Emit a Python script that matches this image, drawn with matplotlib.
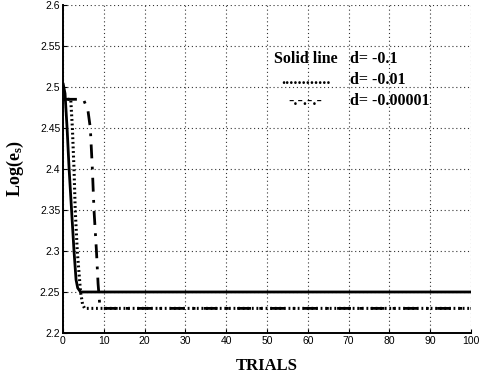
import matplotlib
matplotlib.use("Agg")
import matplotlib.pyplot as plt

# Convergence of Log(e_s) over trials for three values of d
trials_a = [0, 0.5, 1.0, 1.5, 2.1, 2.7, 3.2, 3.6, 4.3, 100]
loge_a = [2.505, 2.492, 2.45, 2.40, 2.35, 2.30, 2.265, 2.255, 2.25, 2.25]   # d = -0.1

trials_b = [0, 1.9, 2.3, 2.7, 3.0, 3.5, 4.3, 4.8, 5.3, 100]
loge_b = [2.485, 2.485, 2.45, 2.40, 2.35, 2.30, 2.25, 2.235, 2.23, 2.23]     # d = -0.01

trials_c = [0, 5.0, 6.1, 6.7, 7.2, 7.6, 8.2, 8.6, 9.0, 9.5, 100]
loge_c = [2.485, 2.485, 2.472, 2.45, 2.40, 2.35, 2.30, 2.26, 2.235, 2.23, 2.23]  # d = -0.00001

x_ticks = list(range(0, 101, 10))
y_ticks = [2.2, 2.25, 2.3, 2.35, 2.4, 2.45, 2.5, 2.55, 2.6]
y_tick_labels = ["2.2", "2.25", "2.3", "2.35", "2.4", "2.45", "2.5", "2.55", "2.6"]

legend_keys = ["Solid line", "............", "-.-.-.-"]
legend_vals = ["d= -0.1", "d= -0.01", "d= -0.00001"]

plt.rcParams["mathtext.fontset"] = "custom"
plt.rcParams["mathtext.rm"] = "Liberation Serif:bold"
plt.rcParams["mathtext.it"] = "Liberation Serif:bold"

fig = plt.figure(figsize=(4.79, 3.76), dpi=100)
ax = fig.add_axes([0.1315, 0.1144, 0.8518, 0.8723])

ax.plot(trials_a, loge_a, color="black", lw=2.0, solid_capstyle="butt")
ax.plot(trials_b, loge_b, color="black", lw=2.2, linestyle=(0, (0.6, 0.9)))
ax.plot(trials_c, loge_c, color="black", lw=2.0, linestyle=(0, (5, 3, 1, 3)))

ax.set_xlim(0, 100)
ax.set_ylim(2.2, 2.6)
ax.set_xticks(x_ticks)
ax.set_yticks(y_ticks)
ax.set_yticklabels(y_tick_labels)

ax.grid(True, color="#333333", linestyle=(0, (1, 2.5)), linewidth=0.8)
for side in ("top", "right"):
    ax.spines[side].set_visible(False)
for side in ("left", "bottom"):
    ax.spines[side].set_linewidth(1.4)

ax.tick_params(direction="in", length=3, width=0.8, labelsize=7.5, pad=2)
for lbl in ax.get_xticklabels() + ax.get_yticklabels():
    lbl.set_family("Liberation Sans")

ax.set_xlabel("TRIALS", family="Liberation Serif", weight="bold", fontsize=12, labelpad=9)
ax.set_ylabel("Log(e$_s$)", family="Liberation Serif", weight="bold", fontsize=13, labelpad=10)

key_x = [306, 306, 305]
val_x = 350
row_y = [59, 80, 101]
for key, val, kx, ry in zip(legend_keys, legend_vals, key_x, row_y):
    yf = (333 - ry) / 328.0
    ax.text((kx - 63) / 408.0, yf, key, transform=ax.transAxes, ha="center", va="center",
            family="Liberation Serif", weight="bold", fontsize=11.5)
    ax.text((val_x - 63) / 408.0, yf, val, transform=ax.transAxes, ha="left", va="center",
            family="Liberation Serif", weight="bold", fontsize=11.5)

fig.savefig("out.png", dpi=100)
